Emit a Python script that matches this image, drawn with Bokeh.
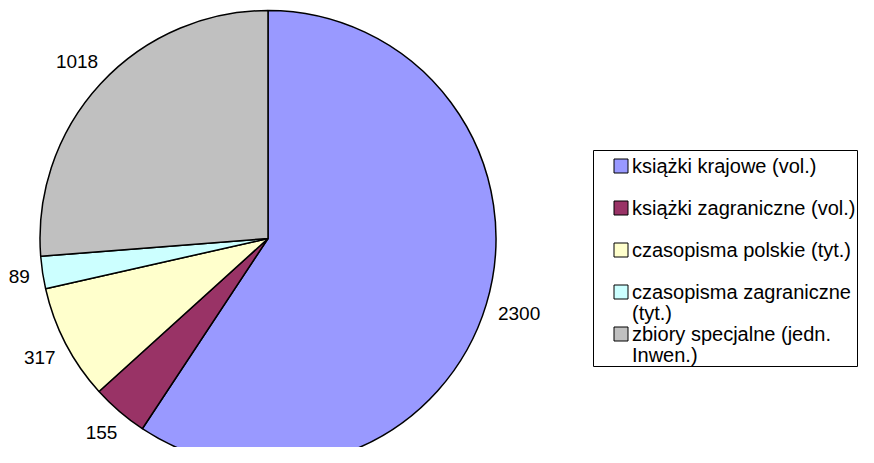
import math
from bokeh.plotting import figure
from bokeh.models import Range1d, ColumnDataSource
from bokeh.core.properties import value
from bokeh.embed import file_html
from bokeh.resources import INLINE

# ---- data ----
categories = [
    "książki krajowe (vol.)",
    "książki zagraniczne (vol.)",
    "czasopisma polskie (tyt.)",
    "czasopisma zagraniczne\n(tyt.)",
    "zbiory specjalne (jedn.\nInwen.)",
]
values = [2300, 155, 317, 89, 1018]
colors = ["#9999FF", "#993366", "#FFFFCC", "#CCFFFF", "#C0C0C0"]

# ---- layout (pixels of the canvas, y up) ----
W, H = 858, 447
CX, CY, R = 267.5, 209.0, 228.0
FONT = "Liberation Sans"
FS = 19
LFS = 20

p = figure(width=W, height=H, output_backend="svg", toolbar_location=None,
           x_range=Range1d(0, W), y_range=Range1d(0, H), min_border=0,
           background_fill_color="white", border_fill_color="white")
p.axis.visible = False
p.grid.visible = False
p.outline_line_color = None

total = float(sum(values))
starts, ends, mids = [], [], []
cum = 0.0
for v in values:
    a0 = math.pi / 2 - 2 * math.pi * cum / total
    cum += v
    a1 = math.pi / 2 - 2 * math.pi * cum / total
    starts.append(a1)
    ends.append(a0)
    mids.append((a0 + a1) / 2)

src = ColumnDataSource(dict(start=starts, end=ends, color=colors))
p.wedge(x=CX, y=CY, radius=R, start_angle="start", end_angle="end",
        fill_color="color", line_color="black", line_width=1.5, source=src)

# data labels
lx, ly, lt = [], [], []
for v, m in zip(values, mids):
    t = str(v)
    hw = len(t) * 0.556 * FS / 2
    hh = 0.716 * FS / 2
    c, s = math.cos(m), math.sin(m)
    d = R + 12 + abs(c) * hw + abs(s) * hh
    lx.append(CX + d * c)
    ly.append(CY + d * s)
    lt.append(t)
p.text(x=lx, y=ly, text=lt, text_font=value(FONT), text_font_size=f"{FS}px",
       text_align="center", text_baseline="middle", text_color="black")

# legend
BL, BR, BT, BB = 593, 857, 297, 81
p.quad(left=[BL], right=[BR], top=[BT], bottom=[BB], fill_color="white",
       line_color="black", line_width=1)
row0, pitch, lh = 281.5, 42.0, 21.0
sq_x, tx = 620.5, 631.5
sqy = [row0 - i * pitch for i in range(len(categories))]
p.rect(x=[sq_x] * len(categories), y=sqy, width=14, height=14,
       fill_color=colors, line_color="black", line_width=1)
tx_l, ty_l, tt_l = [], [], []
for i, lab in enumerate(categories):
    for j, line in enumerate(lab.split("\n")):
        tx_l.append(tx)
        ty_l.append(sqy[i] - j * lh)
        tt_l.append(line)
p.text(x=tx_l, y=ty_l, text=tt_l, text_font=value(FONT), text_font_size=f"{LFS}px",
       text_align="left", text_baseline="middle", text_color="black")

open("out.html", "w").write(file_html(p, INLINE))
